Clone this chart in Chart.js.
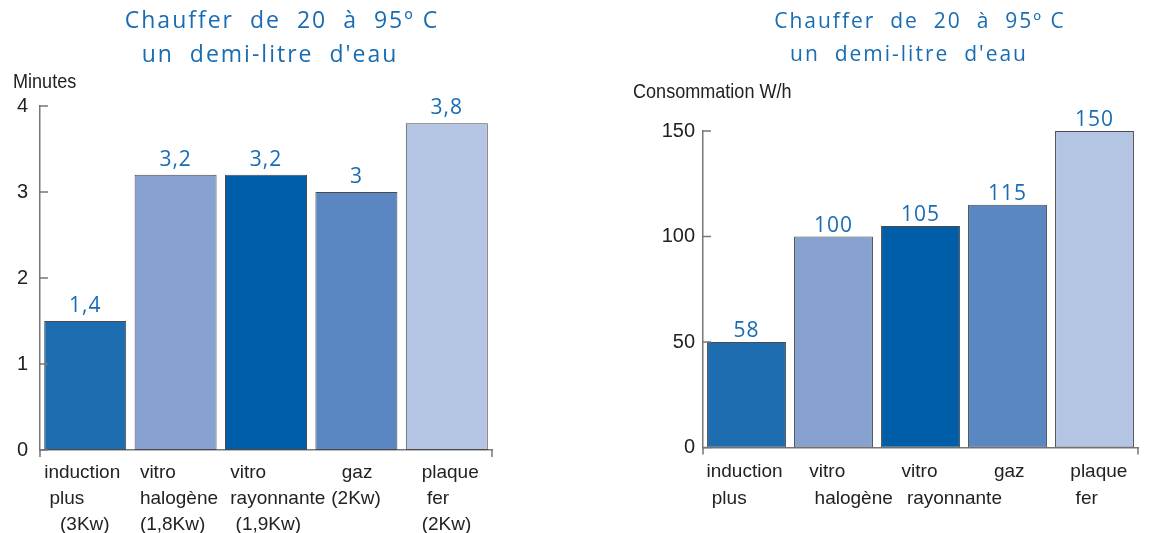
<!DOCTYPE html>
<html>
<head>
<meta charset="utf-8">
<script src="https://cdn.jsdelivr.net/npm/chart.js@4.4.1/dist/chart.umd.min.js"></script>
<style>
html, body { margin: 0; padding: 0; background: #fff; }
.wrap { position: absolute; top: 0; width: 582px; height: 533px; }
</style>
</head>
<body>
<div class="wrap" style="left:0"><canvas id="time-chart" width="582" height="533"></canvas></div>
<div class="wrap" style="left:582px"><canvas id="power-chart" width="582" height="533"></canvas></div>
<script>
// shared text
const titleLines = ['Chauffer  de  20  à  95º C', 'un  demi-litre  d\'eau'];
const barColours = ['#1f6db1', '#87a2d0', '#005ea9', '#5a86c2', '#b4c5e4'];

// left chart: heating time
const timeCaption = 'Minutes';
const timeCategories = [
    ['induction', ' plus', '   (3Kw)'],
    [' vitro', ' halogène', ' (1,8Kw)'],
    [' vitro', ' rayonnante', '  (1,9Kw)'],
    ['     gaz', '   (2Kw)'],
    ['   plaque', '    fer', '   (2Kw)']
];
const timeValues = [1.5, 3.2, 3.2, 3, 3.8];
const timeLabels = ['1,4', '3,2', '3,2', '3', '3,8'];

// right chart: consumption
const powerCaption = 'Consommation W/h';
const powerCategories = [
    ['induction', ' plus'],
    ['   vitro', '    halogène'],
    ['    vitro', '     rayonnante'],
    ['     gaz'],
    ['   plaque', '    fer']
];
const powerValues = [50, 100, 105, 115, 150];
const powerLabels = ['58', '100', '105', '115', '150'];

const BLUE = '#1a6cb2';
const AXIS = '#777';
const TEXT = '#222';

/** Titles, caption, inward ticks and value labels
 */
const decorPlugin = {
    id: 'decor',
    afterDraw: function (chart, args, opts) {
        const ctx = chart.ctx;
        const area = chart.chartArea;
        const yScale = chart.scales.y;
        ctx.save();

        // two line title, letter spaced
        ctx.fillStyle = BLUE;
        ctx.font = opts.titleSize + 'px "Open Sans"';
        ctx.letterSpacing = '2px';
        ctx.textAlign = 'center';
        ctx.textBaseline = 'middle';
        titleLines.forEach(function (line, i) {
            ctx.fillText(line, opts.titleX[i], opts.titleY[i]);
        });
        ctx.letterSpacing = '0px';

        // axis caption, narrowed
        ctx.save();
        ctx.fillStyle = TEXT;
        ctx.font = '21px "Liberation Sans"';
        ctx.textAlign = 'left';
        ctx.translate(opts.captionX, opts.captionY);
        ctx.scale(0.86, 1);
        ctx.fillText(opts.caption, 0, 0);
        ctx.restore();

        // y ticks pointing inward, axis ends going down
        ctx.strokeStyle = AXIS;
        ctx.lineWidth = 1.5;
        ctx.beginPath();
        yScale.ticks.forEach(function (tick, i) {
            const py = yScale.getPixelForTick(i);
            ctx.moveTo(area.left, py);
            ctx.lineTo(area.left + 8, py);
        });
        ctx.moveTo(area.left, area.bottom);
        ctx.lineTo(area.left, area.bottom + 7);
        ctx.moveTo(area.right, area.bottom);
        ctx.lineTo(area.right, area.bottom + 7);
        ctx.stroke();

        // value above each bar
        ctx.fillStyle = BLUE;
        ctx.font = '21px "Open Sans"';
        ctx.letterSpacing = '1px';
        ctx.textAlign = 'center';
        ctx.textBaseline = 'alphabetic';
        chart.getDatasetMeta(0).data.forEach(function (bar, i) {
            ctx.fillText(opts.labels[i], bar.x, bar.y - opts.gap);
        });
        ctx.restore();
    }
};

function makeChart(canvasId, cfg) {
    return new Chart(document.getElementById(canvasId).getContext('2d'), {
        type: 'bar',
        data: {
            labels: cfg.categories,
            datasets: [{
                data: cfg.values,
                backgroundColor: barColours,
                borderColor: '#4a4a4a',
                borderWidth: 1,
                borderSkipped: false,
                categoryPercentage: 1,
                barPercentage: 0.907
            }]
        },
        options: {
            responsive: false,
            animation: false,
            events: [],
            layout: {padding: cfg.padding},
            plugins: {
                legend: {display: false},
                tooltip: {enabled: false},
                decor: cfg.decor
            },
            scales: {
                x: {
                    grid: {display: false, drawTicks: false},
                    border: {display: true, color: AXIS, width: 1.5},
                    ticks: {
                        align: 'start',
                        labelOffset: cfg.labelOffset,
                        padding: 10,
                        autoSkip: false,
                        maxRotation: 0,
                        minRotation: 0,
                        color: TEXT,
                        font: {family: '"Liberation Sans"', size: 19, lineHeight: cfg.lineHeight}
                    },
                    afterFit: function (scale) {
                        scale.height = cfg.xHeight;
                        // labels are shifted left, no side room needed
                        scale.paddingLeft = 0;
                        scale.paddingRight = 0;
                    }
                },
                y: {
                    min: 0,
                    max: cfg.max,
                    grid: {display: false, drawTicks: false},
                    border: {display: true, color: AXIS, width: 1.5},
                    ticks: {
                        stepSize: cfg.step,
                        padding: cfg.yPadding,
                        color: TEXT,
                        font: {family: '"Liberation Sans"', size: 20}
                    },
                    afterFit: function (scale) { scale.width = cfg.yWidth; }
                }
            }
        },
        plugins: [decorPlugin]
    });
}

makeChart('time-chart', {
    categories: timeCategories,
    values: timeValues,
    max: 4,
    step: 1,
    padding: {top: 106, right: 90, bottom: 0, left: 0},
    xHeight: 83,
    yWidth: 40,
    yPadding: 12,
    labelOffset: -41,
    lineHeight: 1.37,
    decor: {
        titleSize: 23,
        titleX: [282, 270], titleY: [21, 55],
        caption: timeCaption, captionX: 13, captionY: 82,
        labels: timeLabels, gap: 9
    }
});

makeChart('power-chart', {
    categories: powerCategories,
    values: powerValues,
    max: 150,
    step: 50,
    padding: {top: 131, right: 26, bottom: 0, left: 0},
    xHeight: 85.5,
    yWidth: 121,
    yPadding: 8,
    labelOffset: -40,
    lineHeight: 1.45,
    decor: {
        titleSize: 21,
        titleX: [338, 327], titleY: [22, 55],
        caption: powerCaption, captionX: 51, captionY: 92,
        labels: powerLabels, gap: 5
    }
});
</script>
</body>
</html>
